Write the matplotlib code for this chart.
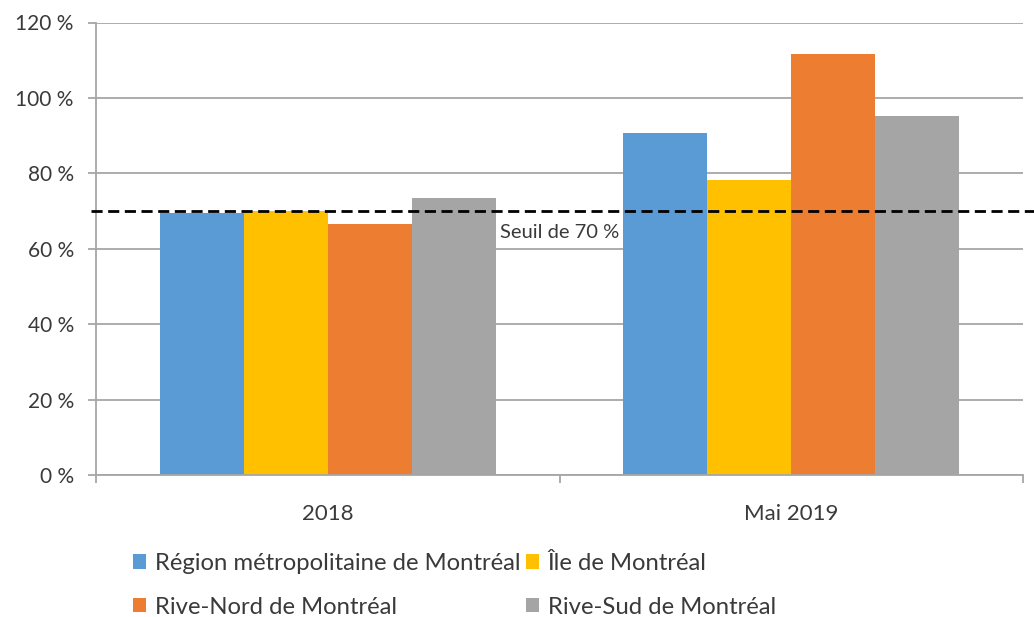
import matplotlib
matplotlib.use("Agg")
import matplotlib.pyplot as plt
import numpy as np

plt.rcParams['font.family'] = ['Lato', 'DejaVu Sans']

categories = ["2018", "Mai 2019"]
series_names = ["Région métropolitaine de Montréal", "Île de Montréal",
                "Rive-Nord de Montréal", "Rive-Sud de Montréal"]
region_metro = [69.4, 90.8]
ile = [70.0, 78.1]
rive_nord = [66.5, 111.6]
rive_sud = [73.4, 95.3]
seuil = 70
seuil_label = "Seuil de 70 %"
yticks = [0, 20, 40, 60, 80, 100, 120]
ytick_labels = ["0 %", "20 %", "40 %", "60 %", "80 %", "100 %", "120 %"]

colors = ["#5B9BD5", "#FFC000", "#ED7D31", "#A5A5A5"]
grid_c = "#A6A6A6"
text_c = "#3A3A3A"

fig = plt.figure(figsize=(10.34, 6.17), dpi=100)
ax = fig.add_axes([96/1034, 1-475/617, (1023-96)/1034, (475-22.5)/617])

x = np.arange(len(categories))
w = 0.181
all_series = [region_metro, ile, rive_nord, rive_sud]
handles = []
for i, (vals, c, name) in enumerate(zip(all_series, colors, series_names)):
    b = ax.bar(x + (i - 1.5) * w, vals, width=w, color=c, label=name, zorder=2)
    handles.append(b)

ax.set_xlim(-0.5, 1.5)
ax.set_ylim(0, 120)
ax.set_yticks(yticks)
ax.set_yticklabels(ytick_labels)
ax.yaxis.grid(True, color=grid_c, linewidth=1.3, zorder=0)
ax.set_axisbelow(True)

ax.set_xticks([-0.5, 0.5, 1.5])
ax.set_xticklabels([])
ax.set_xticks(x, minor=True)
ax.set_xticklabels(categories, minor=True)
ax.tick_params(axis='x', which='minor', length=0, pad=21, labelsize=16, labelcolor=text_c)
ax.tick_params(axis='x', which='major', length=6, width=1.3, color=grid_c)
ax.tick_params(axis='y', length=6, width=1.3, color=grid_c, pad=10, labelsize=15, labelcolor=text_c)

for s in ["top", "right"]:
    ax.spines[s].set_visible(False)
for s in ["left", "bottom"]:
    ax.spines[s].set_color(grid_c)
    ax.spines[s].set_linewidth(1.3)

ax.axhline(seuil, xmin=-0.005, xmax=1.012, color="black", linewidth=2.0,
           linestyle=(0, (4, 2)), clip_on=False, zorder=4)
ax.text(0.372, 64.2, seuil_label, fontsize=14.5, color=text_c, va='center', ha='left',
        bbox=dict(facecolor='white', edgecolor='none', pad=1.5), zorder=3)

order = [0, 2, 1, 3]
leg = fig.legend([handles[i] for i in order], [series_names[i] for i in order],
                 ncol=2, loc='center', bbox_to_anchor=(0.4396, 0.0515),
                 frameon=False, fontsize=17.2, handlelength=0.55, handleheight=0.55,
                 handletextpad=0.35, columnspacing=0.25, labelspacing=0.95,
                 borderpad=0, borderaxespad=0)
for t in leg.get_texts():
    t.set_color(text_c)

fig.savefig("out.png", dpi=100)
